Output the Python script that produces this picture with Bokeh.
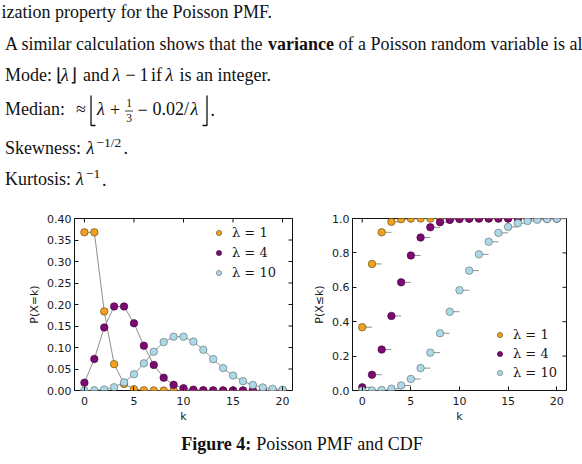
import math
from bokeh.plotting import figure
from bokeh.models import Range1d, FixedTicker, Legend, LegendItem, NumeralTickFormatter
from bokeh.layouts import column, row
from bokeh.core.properties import value
from bokeh.embed import file_html
from bokeh.resources import INLINE

# ---------------- data ----------------
k = list(range(21))
pmf_lam1 = [0.3679, 0.3679, 0.1839, 0.0613, 0.0153, 0.0031, 0.0005, 0.0001, 0.0, 0.0, 0.0,
            0.0, 0.0, 0.0, 0.0, 0.0, 0.0, 0.0, 0.0, 0.0, 0.0]
pmf_lam4 = [0.0183, 0.0733, 0.1465, 0.1954, 0.1954, 0.1563, 0.1042, 0.0595, 0.0298, 0.0132, 0.0053,
            0.0019, 0.0006, 0.0002, 0.0001, 0.0, 0.0, 0.0, 0.0, 0.0, 0.0]
pmf_lam10 = [0.0000, 0.0005, 0.0023, 0.0076, 0.0189, 0.0378, 0.0631, 0.0901, 0.1126, 0.1251, 0.1251,
             0.1137, 0.0948, 0.0729, 0.0521, 0.0347, 0.0217, 0.0128, 0.0071, 0.0037, 0.0019]
cdf_lam1 = [0.3679, 0.7358, 0.9197, 0.9810, 0.9963, 0.9994, 0.9999, 1.0, 1.0, 1.0, 1.0,
            1.0, 1.0, 1.0, 1.0, 1.0, 1.0, 1.0, 1.0, 1.0, 1.0]
cdf_lam4 = [0.0183, 0.0916, 0.2381, 0.4335, 0.6288, 0.7851, 0.8893, 0.9489, 0.9786, 0.9919, 0.9972,
            0.9991, 0.9997, 0.9999, 1.0, 1.0, 1.0, 1.0, 1.0, 1.0, 1.0]
cdf_lam10 = [0.0000, 0.0005, 0.0028, 0.0103, 0.0293, 0.0671, 0.1301, 0.2202, 0.3328, 0.4579, 0.5830,
             0.6968, 0.7916, 0.8645, 0.9165, 0.9513, 0.9730, 0.9857, 0.9928, 0.9965, 0.9984]
series_labels = ["λ = 1", "λ = 4", "λ = 10"]
x_ticks = [0, 5, 10, 15, 20]
pmf_y_ticks = [0.00, 0.05, 0.10, 0.15, 0.20, 0.25, 0.30, 0.35, 0.40]
cdf_y_ticks = [0.0, 0.2, 0.4, 0.6, 0.8, 1.0]

COLORS = ["#F2A11F", "#7D0A72", "#ADD8E6"]
EDGES = ["#5a4010", "#3a0035", "#556870"]
LINE_GRAY = "#8f8f8f"
SERIF = "Liberation Serif"
TEXT_COLOR = "#111111"


def put(fig, x, base, s, size=18, style="normal", font=SERIF, align="left"):
    # base = alphabetic baseline; converted to the em-box middle
    fig.text(x=[x], y=[base - 0.3375 * size], text=[s], text_font=value(font),
             text_font_size=f"{size}px", text_font_style=style, text_baseline="middle",
             text_align=align, text_color=TEXT_COLOR)


def blank_fig(w, h):
    f = figure(width=w, height=h, x_range=Range1d(0, w), y_range=Range1d(h, 0),
               output_backend="svg", toolbar_location=None, min_border=0)
    f.axis.visible = False
    f.grid.visible = False
    f.outline_line_color = None
    return f


# ---------------- top text ----------------
top = blank_fig(582, 205)
put(top, 1, 18, "ization property for the Poisson PMF.")
put(top, 4.5, 49.5, "A similar calculation shows that the")
put(top, 267.5, 49.5, "variance", style="bold")
put(top, 338, 49.5, "of a Poisson random variable is also λ.")

y3 = 80.5
put(top, 4.5, y3, "Mode:")
put(top, 55, y3, "⌊")
put(top, 60.5, y3, "λ", style="italic")
put(top, 69.5, y3, "⌋")
put(top, 82.5, y3, "and")
put(top, 112, y3, "λ", style="italic")
put(top, 125, y3, "−")
put(top, 139, y3, "1")
put(top, 150.5, y3, "if")
put(top, 165, y3, "λ", style="italic")
put(top, 179, y3, "is an integer.")

y4 = 115
put(top, 4.5, y4, "Median:")
put(top, 75.5, y4, "≈")
put(top, 96.5, y4, "λ", style="italic")
put(top, 109.5, y4, "+")
put(top, 128.5, 106.5, "1", size=11.5, align="center")
put(top, 128.5, 121.5, "3", size=11.5, align="center")
put(top, 137, y4, "−")
put(top, 152, y4, "0.02/")
put(top, 190, y4, "λ", style="italic")
put(top, 210, y4, ".")
# tall floor brackets and fraction bar
top.multi_line(xs=[[90.5, 90.5, 95.0], [202.0, 206.5, 206.5], [124.5, 132.5]],
               ys=[[95.0, 125.0, 125.0], [125.0, 125.0, 95.0], [110.5, 110.5]],
               line_color=TEXT_COLOR, line_width=[1.3, 1.3, 0.8])

y5 = 153.5
put(top, 4.5, y5, "Skewness:")
put(top, 86, y5, "λ", style="italic")
put(top, 96, y5 - 7, "−1/2", size=13.5)
put(top, 123, y5, ".")

y6 = 185
put(top, 4.5, y6, "Kurtosis:")
put(top, 75.5, y6, "λ", style="italic")
put(top, 85.5, y6 - 7, "−1", size=13.5)
put(top, 101.5, y6, ".")


# ---------------- charts ----------------
def style_chart(p, yticks, yfmt, ylabel):
    p.grid.visible = False
    p.outline_line_color = "#111111"
    p.outline_line_width = 1
    p.background_fill_color = "white"
    p.xaxis.ticker = FixedTicker(ticks=x_ticks)
    p.yaxis.ticker = FixedTicker(ticks=yticks)
    p.yaxis.formatter = NumeralTickFormatter(format=yfmt)
    for ax in p.axis:
        ax.axis_line_color = None
        ax.major_tick_in = 4
        ax.major_tick_out = 0
        ax.major_tick_line_color = "#111111"
        ax.minor_tick_line_color = None
        ax.major_label_text_font = "DejaVu Sans"
        ax.major_label_text_font_size = "11px"
        ax.major_label_text_color = "#1a1a1a"
        ax.axis_label_text_font = "DejaVu Sans"
        ax.axis_label_text_font_size = "11px"
        ax.axis_label_text_font_style = "normal"
        ax.axis_label_text_color = "#1a1a1a"
    p.xaxis.major_label_standoff = 6
    p.xaxis.axis_label_standoff = 2
    p.yaxis.major_label_standoff = 3
    p.yaxis.axis_label_standoff = 3
    p.xaxis.axis_label = "k"
    p.yaxis.axis_label = ylabel
    # mirrored inward ticks on the top and right edges (half of each dash is clipped by the frame)
    xr, yr = p.x_range, p.y_range
    p.scatter(x=[xr.end] * len(yticks), y=yticks, marker="dash", size=8,
              line_color="#111111", line_width=1)
    p.scatter(x=x_ticks, y=[yr.end] * len(x_ticks), marker="dash", size=8, angle=math.pi / 2,
              line_color="#111111", line_width=1)


def make_legend(p, renderers, loc, spacing, standoff):
    items = [LegendItem(label=lab, renderers=[r]) for lab, r in zip(series_labels, renderers)]
    lg = Legend(items=items, location=loc, border_line_color=None, background_fill_alpha=0,
                glyph_width=13, glyph_height=13, label_height=13, label_standoff=standoff,
                spacing=spacing, padding=4, margin=0,
                label_text_font="DejaVu Serif", label_text_font_size="13px",
                label_text_color="#1a1a1a")
    p.add_layout(lg)


# PMF
p1 = figure(width=300, height=220, x_range=Range1d(-1, 21), y_range=Range1d(0, 0.40),
            output_backend="svg", toolbar_location=None,
            min_border_left=74, min_border_right=8, min_border_top=11, min_border_bottom=33)
style_chart(p1, pmf_y_ticks, "0.00", "P(X=k)")
pmf_renderers = []
for vals, c, e in zip([pmf_lam1, pmf_lam4, pmf_lam10], COLORS, EDGES):
    p1.line(k, vals, line_color=LINE_GRAY, line_width=1)
    r = p1.scatter(k, vals, size=7.5, fill_color=c, line_color=e, line_width=0.6)
    pmf_renderers.append(r)
make_legend(p1, pmf_renderers, (138, 110), 5, 7)

# CDF
p2 = figure(width=282, height=220, x_range=Range1d(-1, 21), y_range=Range1d(0, 1.0),
            output_backend="svg", toolbar_location=None,
            min_border_left=52, min_border_right=16, min_border_top=13, min_border_bottom=32)
style_chart(p2, cdf_y_ticks, "0.0", "P(X≤k)")
cdf_renderers = []
for vals, c, e in zip([cdf_lam1, cdf_lam4, cdf_lam10], COLORS, EDGES):
    k_next = [v + 1 for v in k]
    p2.segment(x0=k, y0=vals, x1=k_next, y1=vals, line_color=LINE_GRAY, line_width=1)
    r = p2.scatter(k, vals, size=7.5, fill_color=c, line_color=e, line_width=0.6)
    cdf_renderers.append(r)
make_legend(p2, cdf_renderers, (141, 10), 4, 7)

# ---------------- caption ----------------
bottom = blank_fig(582, 39)
put(bottom, 180.7, 24.5, "Figure 4:", style="bold")
put(bottom, 255.7, 24.5, "Poisson PMF and CDF")

layout = column(top, row(p1, p2, spacing=0), bottom, spacing=0)
open("out.html", "w").write(file_html(layout, INLINE))
